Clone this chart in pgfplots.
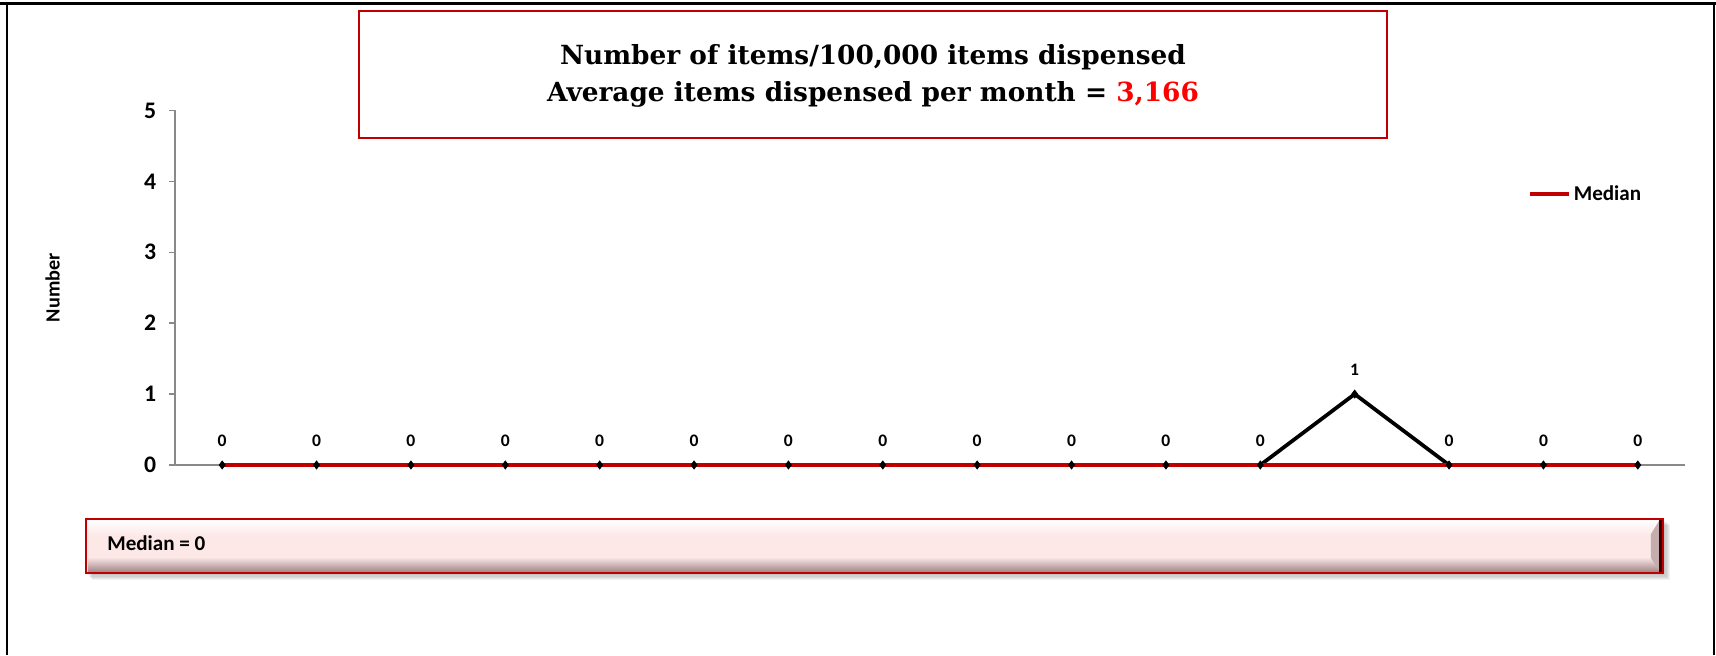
\documentclass[border=0pt]{standalone}
\usepackage{fontspec}
\setmainfont{Carlito}
\newfontfamily\titlefont{DejaVu Serif}
\usepackage{pgfplots}
\pgfplotsset{compat=1.18}
\definecolor{medred}{HTML}{C00000}
\definecolor{axgray}{HTML}{898989}
\definecolor{boxpink}{HTML}{FDE8E8}
\definecolor{bevdark}{HTML}{A08585}

\pgfplotstableread{
x y
1 0
2 0
3 0
4 0
5 0
6 0
7 0
8 0
9 0
10 0
11 0
12 0
13 1
14 0
15 0
16 0
}\counts

\pgfplotstableread{
x y
1 0
16 0
}\median

\begin{document}
\begin{tikzpicture}
\useasboundingbox (0,0) rectangle (34.32cm,13.10cm);

% frame lines, title box, median box (1 unit = 1 px of the reference)
\begin{scope}[x=0.2mm,y=0.2mm]
  \draw[black, line width=0.45mm] (0,651.5) -- (1716,651.5);
  \draw[black, line width=0.45mm] (7,0) -- (7,652);
  \draw[black, line width=0.45mm] (1714,0) -- (1714,652);

  \draw[medred, line width=0.3mm, fill=white] (359,644) rectangle (1387,517);
  \node[font=\titlefont\bfseries\fontsize{15}{18}\selectfont] at (873,598)
    {Number of items/100,000 items dispensed};
  \node[font=\titlefont\bfseries\fontsize{15}{18}\selectfont] at (873,561)
    {Average items dispensed per month = \textcolor{red}{3,166}};

  % shadow
  \foreach \d in {1,...,6}
    \fill[black, opacity=0.05] (86+\d,82-1.2*\d) rectangle (1663+1.2*\d,136-\d);
  \fill[boxpink] (86,82) rectangle (1663,136);
  \shade[top color=white, bottom color=boxpink] (88,136) rectangle (1661,119);
  \shade[top color=boxpink, bottom color=bevdark] (88,98) rectangle (1661,83);
  \fill[bevdark!60!boxpink] (1651,97) -- (1659,85) -- (1659,134) -- (1651,121) -- cycle;
  \fill[black!70!medred] (1659,83) rectangle (1663,135);
  \draw[medred, line width=0.4mm] (86,82) rectangle (1663,136);
  \node[anchor=west, font=\bfseries\fontsize{12}{14}\selectfont, inner sep=0pt]
    at (107,112) {Median = 0};
\end{scope}

\begin{axis}[
  at={(3.50cm,3.80cm)}, anchor=south west,
  scale only axis, width=30.2cm, height=7.09cm,
  xmin=0.5, xmax=16.5, ymin=0, ymax=5,
  axis x line=bottom, axis y line=left,
  axis line style={-, axgray, line width=0.3mm},
  xtick=\empty, ytick={0,1,2,3,4,5},
  tick align=outside, major tick length=1.2mm,
  tick style={axgray, line width=0.3mm},
  /pgf/number format/assume math mode=true,
  ticklabel style={font=\bfseries\fontsize{13.5}{15}\selectfont},
  yticklabel style={inner sep=0pt, xshift=-2.5mm},
  ylabel={Number},
  ylabel style={at={(axis description cs:-0.081,0.5)}, anchor=center,
    font=\bfseries\fontsize{11.5}{13}\selectfont},
  clip=false,
  legend style={at={(axis description cs:0.896,0.764)}, anchor=west,
    draw=none, fill=none, inner sep=0pt,
    font=\bfseries\fontsize{12}{14}\selectfont,
    /tikz/every even column/.append style={column sep=0pt}},
  legend cell align=left,
  legend image code/.code={\draw[#1, line width=0.8mm] (0cm,0cm) -- (0.78cm,0cm);},
]
\addplot[black, line width=0.75mm, forget plot] table[x=x, y=y] {\counts};
\addplot[medred, line width=0.8mm] table[x=x, y=y] {\median};
\addlegendentry[inner xsep=0.5mm]{Median}
\addplot[only marks, mark=diamond*, mark size=2.3pt, black, forget plot,
  nodes near coords,
  every node near coord/.append style={font=\bfseries\fontsize{10}{12}\selectfont,
    anchor=south, inner sep=0pt, yshift=3.6mm},
  /pgf/number format/assume math mode=true]
  table[x=x, y=y] {\counts};
\end{axis}
\end{tikzpicture}
\end{document}
